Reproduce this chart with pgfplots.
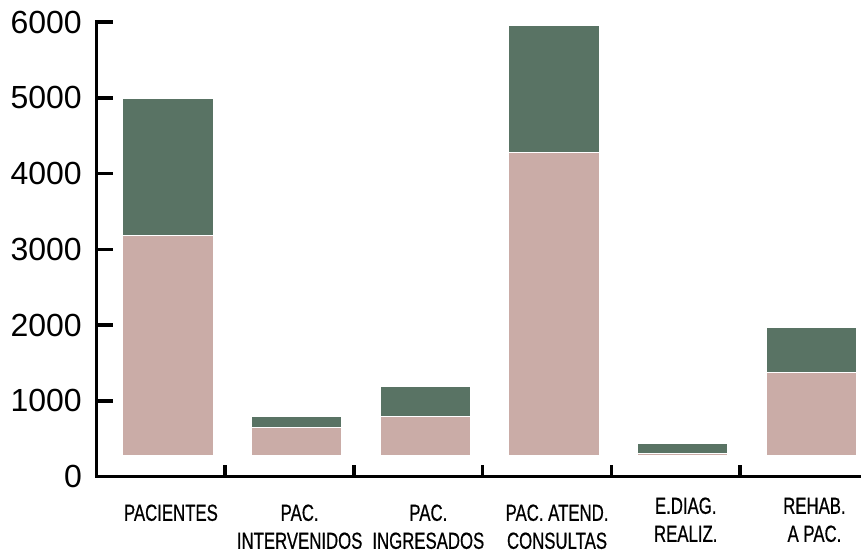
\documentclass[border=0pt]{standalone}
\usepackage{fontspec}
\setmainfont{Liberation Sans}
\newfontfamily\condfont[FakeStretch=0.72,FakeBold=0.6]{Liberation Sans}
\usepackage{pgfplots}
\pgfplotsset{compat=1.18}
\definecolor{bargreen}{RGB}{89,115,100}
\definecolor{barpink}{RGB}{202,172,167}
\newcommand\lab[1]{\begin{tabular}{@{}c@{}}#1\end{tabular}}
\newcommand\labup[1]{\raisebox{0pt}[\dimexpr\height-7pt\relax][\depth]{\lab{#1}}}
\begin{document}
\begin{tikzpicture}
\begin{axis}[
  scale only axis, width=764.5pt, height=454.5pt,
  xmin=0, xmax=5.94, ymin=0, ymax=6000,
  ybar stacked, bar width=0.703,
  axis lines=left,
  axis line style={-, line width=3.5pt, line cap=rect, black},
  tick align=inside,
  major tick length=16pt,
  tick style={line width=3.5pt, black},
  ytick={0,1000,2000,3000,4000,5000,6000},
  xtick={0.555,1.555,2.555,3.555,4.555,5.555},
  xtick style={draw=none},
  xticklabels={{\lab{PACIENTES}},{\lab{PAC.\\INTERVENIDOS}},{\lab{PAC.\\INGRESADOS}},{\lab{PAC. ATEND.\\CONSULTAS}},{\labup{E.DIAG.\\REALIZ.}},{\labup{REHAB.\\A PAC.}}},
  extra x ticks={1,2,3,4,5},
  extra x tick labels={},
  extra x tick style={major tick length=12pt, xtick style={draw=black, line width=3.5pt}},
  xticklabel style={anchor=north, inner sep=0pt, yshift=-24.5pt, xshift=3pt, font=\fontsize{23.3}{28}\selectfont\condfont},
  yticklabel style={anchor=east, inner sep=0pt, xshift=-14.5pt, font=\fontsize{32}{38}\selectfont},
  /pgf/number format/assume math mode=true,
  /pgf/number format/1000 sep={},
  every axis plot/.append style={draw=white, line width=1.2pt},
]
\addplot[fill=none, draw=none] coordinates {(0.555,271) (1.555,271) (2.555,271) (3.555,271) (4.555,271) (5.555,271)};
\addplot[fill=barpink, draw=white] coordinates {(0.555,2907) (1.555,374) (2.555,519) (3.555,4004) (4.555,36) (5.555,1101)};
\addplot[fill=bargreen, draw=white] coordinates {(0.555,1807) (1.555,151) (2.555,397) (3.555,1682) (4.555,132) (5.555,594)};
\coordinate (o) at (rel axis cs:0,0);
\end{axis}
\pgfresetboundingbox
\useasboundingbox ([xshift=-96.5pt,yshift=-78.5pt]o) rectangle ++(861pt,555pt);
\end{tikzpicture}
\end{document}
